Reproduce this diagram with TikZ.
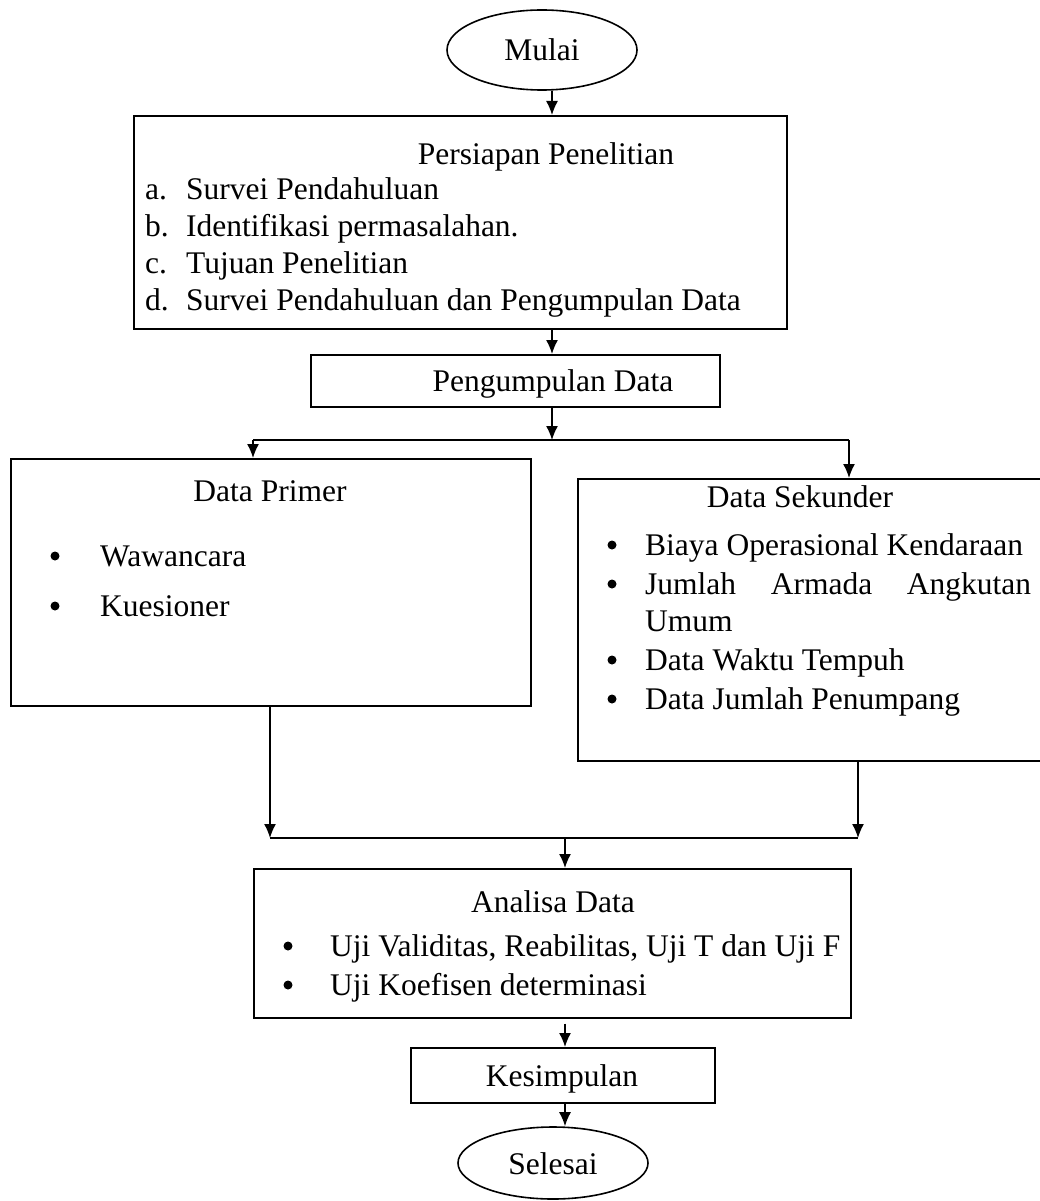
\documentclass[tikz,border=0pt]{standalone}
\usepackage{fontspec}
\setmainfont{Liberation Serif}
\usetikzlibrary{arrows.meta,shapes.geometric}
\begin{document}
\begin{tikzpicture}[x=1pt,y=-1pt,
  box/.style={draw,line width=1.6pt,anchor=north west,inner sep=0pt},
  term/.style={draw,ellipse,line width=1.6pt,inner sep=0pt},
  txt/.style={inner sep=0pt,font=\fontsize{31.5}{36}\selectfont},
  bul/.style={circle,fill,inner sep=0pt,minimum size=9pt},
  arr/.style={line width=1.4pt,-{Latex[length=14pt,width=12pt]}},
  ln/.style={line width=1.6pt}]
\useasboundingbox (0,0) rectangle (1040,1201);
% terminals
\node[term,minimum width=190pt,minimum height=80pt] (mulai) at (542,50) {};
\node[txt,anchor=base] (tmulai) at (542,61) {Mulai};
\node[term,minimum width=190pt,minimum height=72pt] (selesai) at (553,1163) {};
\node[txt,anchor=base] (tselesai) at (553,1174) {Selesai};
% boxes
\node[box,minimum width=653pt,minimum height=213pt] (persiapan) at (133,115) {};
\node[box,minimum width=409pt,minimum height=52pt] (pengumpulan) at (310,354) {};
\node[box,minimum width=520pt,minimum height=247pt] (primer) at (10,458) {};
\node[box,minimum width=480pt,minimum height=282pt] (sekunder) at (577,478) {};
\node[box,minimum width=597pt,minimum height=149pt] (analisa) at (253,868) {};
\node[box,minimum width=304pt,minimum height=55pt] (kesimpulan) at (410,1047) {};
% texts
\node[txt,anchor=base] (t1) at (546,165) {Persiapan Penelitian};
\node[txt,anchor=base west] (a1) at (145,200) {a.};
\node[txt,anchor=base west] (a2) at (186,200) {Survei Pendahuluan};
\node[txt,anchor=base west] (b1) at (145,236) {b.};
\node[txt,anchor=base west] (b2) at (186,236) {Identifikasi permasalahan.};
\node[txt,anchor=base west] (c1) at (145,273) {c.};
\node[txt,anchor=base west] (c2) at (186,273) {Tujuan Penelitian};
\node[txt,anchor=base west] (d1) at (145,310) {d.};
\node[txt,anchor=base west] (d2) at (186,310) {Survei Pendahuluan dan Pengumpulan Data};
\node[txt,anchor=base] (t2) at (553,391) {Pengumpulan Data};
\node[txt,anchor=base] (t3) at (270,501) {Data Primer};
\node[bul] (p1b) at (55,556) {};
\node[txt,anchor=base west] (p1) at (100,566) {Wawancara};
\node[bul] (p2b) at (55,606) {};
\node[txt,anchor=base west] (p2) at (100,616) {Kuesioner};
\node[txt,anchor=base] (t4) at (800,507) {Data Sekunder};
\node[bul] (s1b) at (612,545) {};
\node[txt,anchor=base west] (s1) at (645,555) {Biaya Operasional Kendaraan};
\node[bul] (s2b) at (612,584) {};
\node[txt,anchor=base west] (s2) at (645,594) {\makebox[386pt][s]{Jumlah Armada Angkutan}};
\node[txt,anchor=base west] (s3) at (645,631) {Umum};
\node[bul] (s4b) at (612,660) {};
\node[txt,anchor=base west] (s4) at (645,670) {Data Waktu Tempuh};
\node[bul] (s5b) at (612,699) {};
\node[txt,anchor=base west] (s5) at (645,709) {Data Jumlah Penumpang};
\node[txt,anchor=base] (t5) at (553,912) {Analisa Data};
\node[bul] (u1b) at (288,946) {};
\node[txt,anchor=base west] (u1) at (330,956) {Uji Validitas, Reabilitas, Uji T dan Uji F};
\node[bul] (u2b) at (288,985) {};
\node[txt,anchor=base west] (u2) at (330,995) {Uji Koefisen determinasi};
\node[txt,anchor=base] (t6) at (562,1086) {Kesimpulan};
% coordinates
\coordinate (c) at (552,0);
\coordinate (cl) at (565,0);
\coordinate (j1) at (552,440);
\coordinate (jl) at (253,440);
\coordinate (jr) at (849,440);
\coordinate (kl) at (270,838);
\coordinate (kr) at (858,838);
% connectors
\draw[arr] (mulai.south -| c) -- (persiapan.north -| c);
\draw[arr] (persiapan.south -| c) -- (pengumpulan.north -| c);
\draw[arr] (pengumpulan.south -| c) -- (j1);
\draw[ln] (jl) -- (jr);
\draw[arr] (jl) -- (primer.north -| jl);
\draw[arr] (jr) -- (sekunder.north -| jr);
\draw[arr] (primer.south -| kl) -- (kl);
\draw[arr] (sekunder.south -| kr) -- (kr);
\draw[ln] (kl) -- (kr);
\draw[arr] (kl -| cl) -- (analisa.north -| cl);
\draw[arr] ([yshift=-5pt]analisa.south -| cl) -- (kesimpulan.north -| cl);
\draw[arr] (kesimpulan.south -| cl) -- (selesai.north -| cl);
\end{tikzpicture}
\end{document}
